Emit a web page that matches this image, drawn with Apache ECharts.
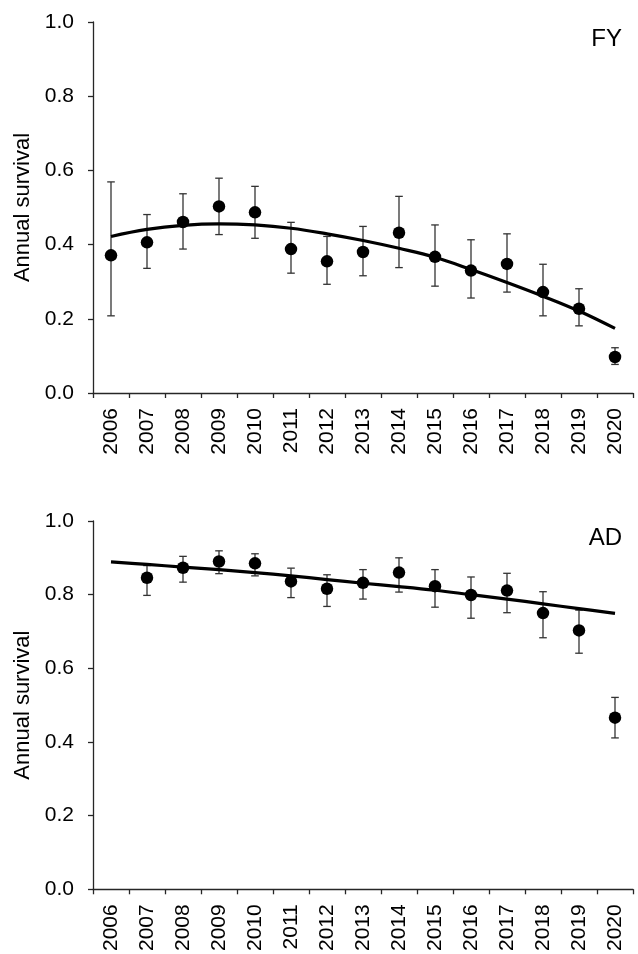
<!DOCTYPE html>
<html>
<head>
<meta charset="utf-8">
<script src="https://cdn.jsdelivr.net/npm/echarts@6/dist/echarts.min.js"></script>
<style>
html,body{margin:0;padding:0;background:#fff;}
#chart{width:638px;height:954px;}
</style>
</head>
<body>
<div id="chart"></div>
<script>
var years = ['2006','2007','2008','2009','2010','2011','2012','2013','2014','2015','2016','2017','2018','2019','2020'];
var yTicks = [0, 0.2, 0.4, 0.6, 0.8, 1.0];

var fySurvival = [0.371,0.406,0.461,0.503,0.487,0.388,0.355,0.380,0.432,0.367,0.330,0.348,0.272,0.227,0.097];
var fyLower    = [0.208,0.336,0.388,0.427,0.417,0.323,0.293,0.316,0.338,0.288,0.256,0.272,0.208,0.181,0.077];
var fyUpper    = [0.569,0.481,0.537,0.579,0.557,0.460,0.422,0.449,0.530,0.453,0.413,0.429,0.347,0.281,0.122];
var fyTrend    = [0.422,0.441,0.452,0.456,0.453,0.444,0.429,0.411,0.390,0.366,0.333,0.298,0.261,0.221,0.174];

var adSurvival = [null,0.846,0.873,0.890,0.885,0.836,0.816,0.832,0.860,0.823,0.799,0.811,0.750,0.703,0.466];
var adLower    = [null,0.798,0.834,0.857,0.851,0.792,0.768,0.788,0.807,0.766,0.736,0.751,0.683,0.641,0.411];
var adUpper    = [null,0.879,0.904,0.919,0.911,0.872,0.854,0.868,0.900,0.868,0.848,0.858,0.808,0.758,0.521];
var adTrend    = [0.889,0.882,0.875,0.868,0.860,0.851,0.841,0.831,0.822,0.812,0.800,0.788,0.775,0.762,0.749];

var FONT = "'Liberation Sans', Arial, sans-serif";
var AXIS_COLOR = '#262626';

function errData(lo, hi) {
  var out = [];
  for (var i = 0; i < lo.length; i++) {
    if (lo[i] != null && hi[i] != null) out.push([i, lo[i], hi[i]]);
  }
  return out;
}
function ptData(v) {
  var out = [];
  for (var i = 0; i < v.length; i++) {
    if (v[i] != null) out.push([i, v[i]]);
  }
  return out;
}
function renderErr(params, api) {
  var x = api.value(0);
  var lo = api.coord([x, api.value(1)]);
  var hi = api.coord([x, api.value(2)]);
  var hw = 3.8;
  var st = { stroke: '#333333', lineWidth: 1.3 };
  return {
    type: 'group',
    children: [
      { type: 'line', shape: { x1: lo[0], y1: lo[1], x2: hi[0], y2: hi[1] }, style: st },
      { type: 'line', shape: { x1: hi[0] - hw, y1: hi[1], x2: hi[0] + hw, y2: hi[1] }, style: st },
      { type: 'line', shape: { x1: lo[0] - hw, y1: lo[1], x2: lo[0] + hw, y2: lo[1] }, style: st }
    ]
  };
}

function xAxisFor(idx) {
  return {
    type: 'category', gridIndex: idx, data: years, boundaryGap: true,
    axisLine: { lineStyle: { color: AXIS_COLOR, width: 1.3 } },
    axisTick: { show: true, inside: false, length: 5, alignWithLabel: false, lineStyle: { color: AXIS_COLOR, width: 1.3 } },
    axisLabel: { rotate: 90, interval: 0, margin: 15, color: '#000', fontSize: 21, fontFamily: FONT },
    splitLine: { show: false }
  };
}
function yAxisFor(idx) {
  return {
    type: 'value', gridIndex: idx, min: yTicks[0], max: yTicks[yTicks.length - 1], interval: 0.2,
    name: 'Annual survival', nameLocation: 'middle', nameGap: 58, nameRotate: 90,
    nameTextStyle: { color: '#000', fontSize: 22, fontFamily: FONT },
    axisLine: { show: true, lineStyle: { color: AXIS_COLOR, width: 1.3 } },
    axisTick: { show: true, inside: false, length: 5, lineStyle: { color: AXIS_COLOR, width: 1.3 } },
    axisLabel: { margin: 19, color: '#000', fontSize: 21, fontFamily: FONT, formatter: function (v) { return v.toFixed(1); } },
    splitLine: { show: false }
  };
}

var chart = echarts.init(document.getElementById('chart'), null, { renderer: 'canvas' });
chart.setOption({
  backgroundColor: '#fff',
  animation: false,
  grid: [
    { left: 93, top: 22, width: 540, height: 371 },
    { left: 93, top: 521, width: 540, height: 371 }
  ],
  xAxis: [xAxisFor(0), xAxisFor(1)],
  yAxis: [yAxisFor(0), yAxisFor(1)],
  graphic: [
    { type: 'text', right: 16, top: 27, style: { text: 'FY', fill: '#000', font: '24px ' + FONT } },
    { type: 'text', right: 16, top: 526, style: { text: 'AD', fill: '#000', font: '24px ' + FONT } }
  ],
  series: [
    { type: 'custom', xAxisIndex: 0, yAxisIndex: 0, renderItem: renderErr, data: errData(fyLower, fyUpper), z: 2, encode: { x: 0, y: [1, 2] } },
    { type: 'line', xAxisIndex: 0, yAxisIndex: 0, data: fyTrend, smooth: 0.4, showSymbol: false, lineStyle: { color: '#000', width: 3.2 }, z: 3 },
    { type: 'scatter', xAxisIndex: 0, yAxisIndex: 0, data: ptData(fySurvival), symbol: 'circle', symbolSize: 12.5, itemStyle: { color: '#000', opacity: 1 }, z: 4 },
    { type: 'custom', xAxisIndex: 1, yAxisIndex: 1, renderItem: renderErr, data: errData(adLower, adUpper), z: 2, encode: { x: 0, y: [1, 2] } },
    { type: 'line', xAxisIndex: 1, yAxisIndex: 1, data: adTrend, smooth: 0.4, showSymbol: false, lineStyle: { color: '#000', width: 3.2 }, z: 3 },
    { type: 'scatter', xAxisIndex: 1, yAxisIndex: 1, data: ptData(adSurvival), symbol: 'circle', symbolSize: 12.5, itemStyle: { color: '#000', opacity: 1 }, z: 4 }
  ]
});
</script>
</body>
</html>
